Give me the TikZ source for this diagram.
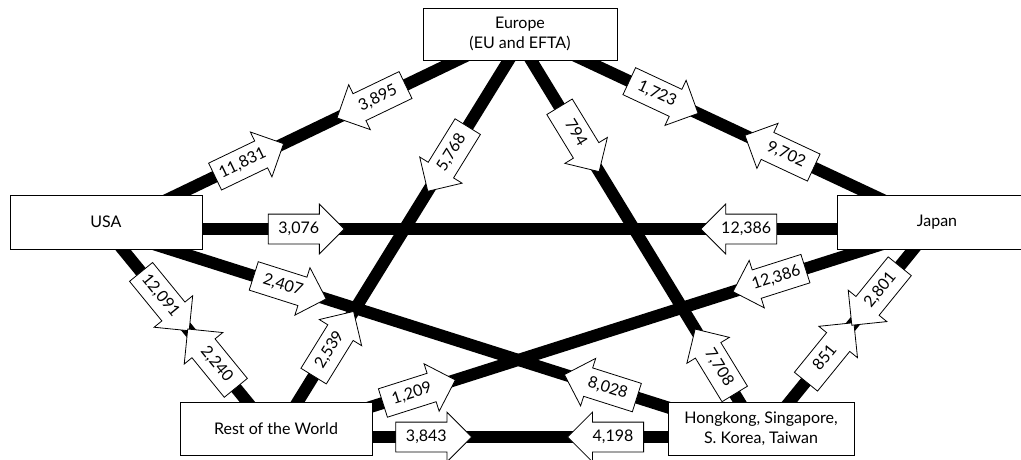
\documentclass[tikz,border=0pt]{standalone}
\usepackage{fontspec}
\setmainfont{Lato}
\usetikzlibrary{shapes.arrows,shadows}
\pgfdeclarelayer{front}
\pgfsetlayers{main,front}
\begin{document}
\begin{tikzpicture}[x=1pt,y=-1pt,
  region/.style={draw, fill=white, line width=0.8pt, align=center,
    font=\fontsize{16}{20}\selectfont, inner sep=0pt,
    drop shadow={shadow xshift=1.2pt, shadow yshift=-1.2pt, fill=black!55, opacity=1}},
  link/.style={line width=12pt},
  flow/.style={single arrow, draw, fill=white, line width=0.8pt, sloped,
    font=\fontsize{16}{20}\selectfont, text height=11.5pt, text depth=2.5pt,
    inner xsep=2pt, inner ysep=7.5pt, single arrow head extend=10pt,
    single arrow head indent=0pt, minimum height=76pt},
  fwd/.style={flow},
  back/.style={flow, shape border rotate=180}]
\useasboundingbox (0,0) rectangle (1021,459);

% trading regions
\begin{pgfonlayer}{front}
  \node[region, minimum width=194pt, minimum height=52pt] (europe) at (520,34) {Europe\\(EU and EFTA)};
  \node[region, minimum width=192pt, minimum height=54pt] (usa) at (106,222) {USA};
  \node[region, minimum width=186pt, minimum height=54pt] (japan) at (930,222) {\hspace*{14pt}Japan};
  \node[region, minimum width=192pt, minimum height=53pt] (row) at (276,428.5) {Rest of the World};
  \node[region, minimum width=186pt, minimum height=53pt] (asia) at (761,428.5) {Hongkong, Singapore,\\S. Korea, Taiwan};
\end{pgfonlayer}

% points where the trade links meet each region
\coordinate (usaH)  at ([yshift=-7pt]usa.center);
\coordinate (japH)  at ([yshift=-7pt]japan.center);
\coordinate (japU)  at (japan.center);
\coordinate (eurH)  at ([yshift=-8pt]europe.center);
\coordinate (eurU)  at ([yshift=4pt]europe.center);
\coordinate (rowH)  at ([yshift=-8.5pt]row.center);
\coordinate (asiaH) at ([yshift=-8.5pt]asia.center);

% trade links
\draw[link] (usaH) -- (eurU);
\draw[link] (eurU) -- (japU);
\draw[link] (usaH) -- (japH);
\draw[link] (rowH) -- (eurH);
\draw[link] (eurH) -- (asiaH);
\draw[link] (usaH) -- (asiaH);
\draw[link] (usaH) -- (rowH);
\draw[link] (rowH) -- (japH);
\draw[link] (asiaH) -- (japH);
\draw[link] (rowH) -- (asiaH);

% trade flows
\path (usaH) -- (eurU) node[fwd, pos=.33] {11,831} node[back, pos=.657] {3,895};
\path (eurU) -- (japU) node[fwd, pos=.334] {1,723} node[back, pos=.649] {9,702};
\path (usaH) -- (japH) node[fwd, pos=.234] {3,076} node[back, pos=.777] {12,386};
\path (rowH) -- (eurH) node[fwd, pos=.22] {2,539} node[back, pos=.72] {5,768};
\path (eurH) -- (asiaH) node[fwd, pos=.23] {794} node[back, pos=.825] {7,708};
\path (usaH) -- (asiaH) node[fwd, pos=.27] {2,407} node[back, pos=.766] {8,028};
\path (usaH) -- (rowH) node[fwd, pos=.32] {12,091} node[back, pos=.65] {2,240};
\path (rowH) -- (japH) node[fwd, pos=.208] {1,209} node[back, pos=.765] {12,386};
\path (asiaH) -- (japH) node[fwd, pos=.38] {851} node[back, pos=.707] {2,801};
\path (rowH) -- (asiaH) node[fwd, pos=.31] {3,843} node[back, pos=.695] {4,198};
\end{tikzpicture}
\end{document}
